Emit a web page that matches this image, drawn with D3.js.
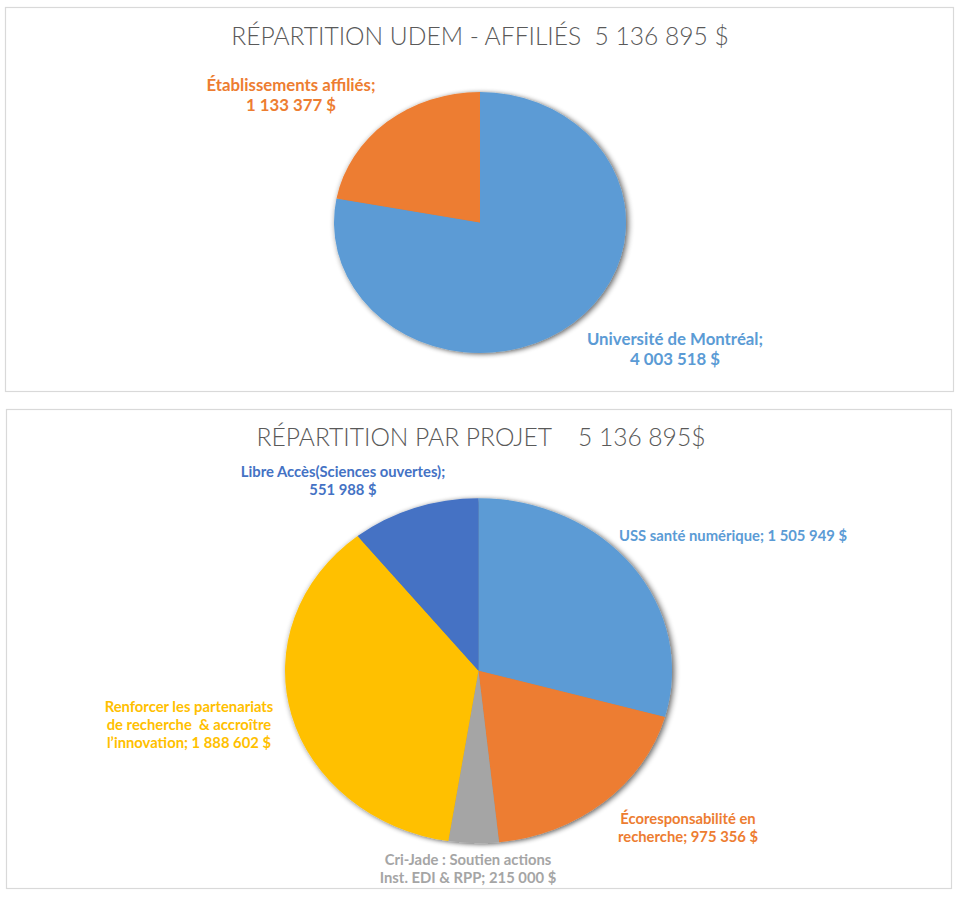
<!DOCTYPE html>
<html>
<head>
<meta charset="utf-8">
<script src="https://cdn.jsdelivr.net/npm/d3@7"></script>
<style>
  html, body { margin: 0; padding: 0; background: #ffffff; }
  svg text { white-space: pre; }
</style>
</head>
<body>
<svg id="chart" width="960" height="899"></svg>
<script>
// ---------- DATA ----------
const topCategories = ["Université de Montréal", "Établissements affiliés"];
const topValues = [4003518, 1133377];
const topColors = ["#5B9BD5", "#ED7D31"];

const bottomCategories = [
  "USS santé numérique",
  "Écoresponsabilité en recherche",
  "Cri-Jade : Soutien actions Inst. EDI & RPP",
  "Renforcer les partenariats de recherche  & accroître l’innovation",
  "Libre Accès(Sciences ouvertes)"
];
const bottomValues = [1505949, 975356, 215000, 1888602, 551988];
const bottomColors = ["#5B9BD5", "#ED7D31", "#A5A5A5", "#FFC000", "#4472C4"];

const topTitlePrefix = "RÉPARTITION UDEM - AFFILIÉS  ";
const topTitleSuffix = " $";
const bottomTitlePrefix = "RÉPARTITION PAR PROJET    ";
const bottomTitleSuffix = "$";

// label line templates ({v} = formatted value)
const topLabelLines = [
  ["Université de Montréal;", "{v} $"],
  ["Établissements affiliés;", "{v} $"]
];
const bottomLabelLines = [
  ["USS santé numérique; {v} $"],
  ["Écoresponsabilité en", "recherche; {v} $"],
  ["Cri-Jade : Soutien actions", "Inst. EDI & RPP; {v} $"],
  ["Renforcer les partenariats", "de recherche  & accroître", "l’innovation; {v} $"],
  ["Libre Accès(Sciences ouvertes);", "{v} $"]
];

// ---------- LAYOUT ----------
const topLayout = {
  panel: {x: 5.5, y: 7.5, w: 948, h: 384},
  titleY: 45, titleX: 480,
  cx: 480, cy: 222.5, rx: 146, ry: 130.5,
  labelSize: 16.8, lineHeight: 19.5,
  labels: [{x: 675, y: 345}, {x: 291, y: 91}]
};
const bottomLayout = {
  panel: {x: 6.5, y: 409.5, w: 945, h: 479},
  titleY: 446, titleX: 481,
  cx: 478.5, cy: 670.7, rx: 193.5, ry: 172.5,
  labelSize: 14.8, lineHeight: 18,
  labels: [{x: 733, y: 541}, {x: 688, y: 824}, {x: 468, y: 865}, {x: 189, y: 712}, {x: 343, y: 477}]
};

const locale = d3.formatLocale({decimal: ",", thousands: " ", grouping: [3], currency: ["", " $"]});
const fmt = locale.format(",d");

const svg = d3.select("#chart");

const defs = svg.append("defs");
const filt = defs.append("filter").attr("id", "shadow")
  .attr("x", "-10%").attr("y", "-10%").attr("width", "120%").attr("height", "120%");
filt.append("feGaussianBlur").attr("in", "SourceAlpha").attr("stdDeviation", 3).attr("result", "blur");
filt.append("feOffset").attr("in", "blur").attr("dx", 1.5).attr("dy", 1).attr("result", "off");
filt.append("feComponentTransfer").attr("in", "off").attr("result", "sh")
  .append("feFuncA").attr("type", "linear").attr("slope", 0.65);
const merge = filt.append("feMerge");
merge.append("feMergeNode").attr("in", "sh");
merge.append("feMergeNode").attr("in", "SourceGraphic");

function drawPie(values, colors, labelLines, titlePrefix, titleSuffix, L) {
  svg.append("rect")
    .attr("x", L.panel.x).attr("y", L.panel.y)
    .attr("width", L.panel.w).attr("height", L.panel.h)
    .attr("fill", "#ffffff").attr("stroke", "#d9d9d9").attr("stroke-width", 1.2);

  const total = d3.sum(values);
  svg.append("text")
    .attr("x", L.titleX).attr("y", L.titleY)
    .attr("text-anchor", "middle")
    .attr("font-family", "Lato, 'Open Sans', sans-serif")
    .attr("font-weight", 300)
    .attr("font-size", 24.6)
    .attr("fill", "#595959")
    .text(titlePrefix + fmt(total) + titleSuffix);

  const pie = d3.pie().sort(null).value(d => d);
  const arcs = pie(values);
  const arc = d3.arc().innerRadius(0).outerRadius(L.rx);

  const g = svg.append("g")
    .attr("transform", `translate(${L.cx},${L.cy}) scale(1,${L.ry / L.rx})`)
    .attr("filter", "url(#shadow)");
  g.selectAll("path").data(arcs).join("path")
    .attr("d", arc)
    .attr("fill", (d, i) => colors[i]);

  arcs.forEach((a, i) => {
    const lines = labelLines[i].map(s => s.replace("{v}", fmt(values[i])));
    const t = svg.append("text")
      .attr("text-anchor", "middle")
      .attr("font-family", "Lato, 'Open Sans', sans-serif")
      .attr("font-weight", 700)
      .attr("font-size", L.labelSize)
      .attr("fill", colors[i]);
    lines.forEach((ln, k) => {
      t.append("tspan")
        .attr("x", L.labels[i].x)
        .attr("y", L.labels[i].y + k * L.lineHeight)
        .text(ln);
    });
  });
}

drawPie(topValues, topColors, topLabelLines, topTitlePrefix, topTitleSuffix, topLayout);
drawPie(bottomValues, bottomColors, bottomLabelLines, bottomTitlePrefix, bottomTitleSuffix, bottomLayout);
</script>
</body>
</html>
